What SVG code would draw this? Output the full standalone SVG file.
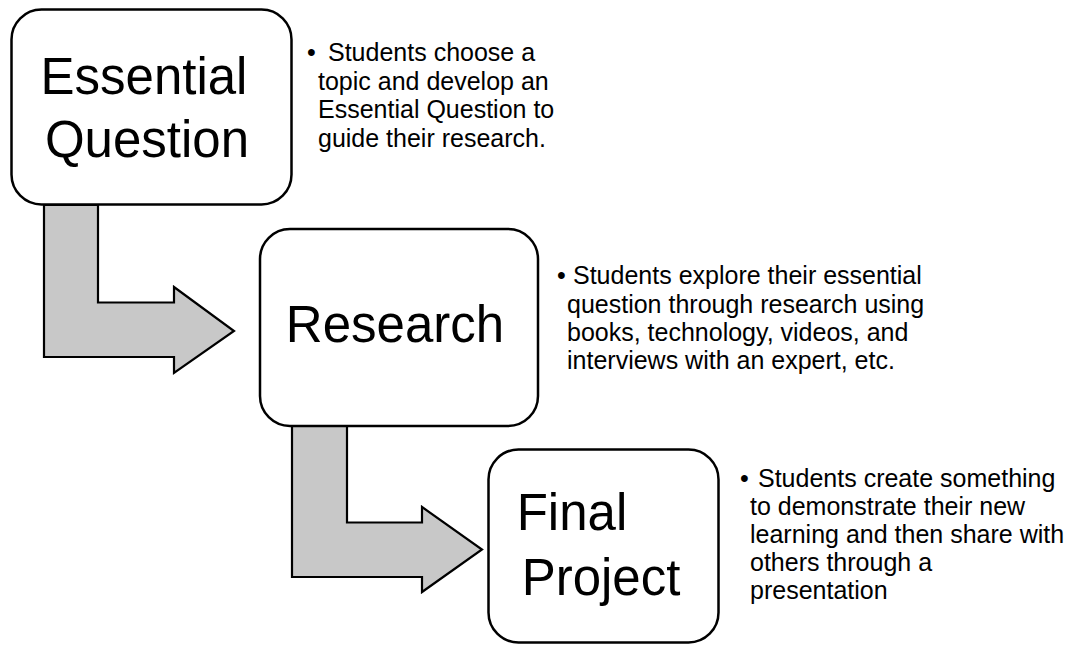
<svg xmlns="http://www.w3.org/2000/svg" width="1071" height="646" viewBox="0 0 1071 646">
<style>
.box{fill:#ffffff;stroke:#000000;stroke-width:2.5}
.arrow{fill:#c8c8c8;stroke:#000000;stroke-width:2.2;stroke-linejoin:miter}
.title{font-family:"Liberation Sans",Arial,sans-serif;font-size:51px;fill:#000000;text-anchor:middle}
.desc{font-family:"Liberation Sans",Arial,sans-serif;font-size:25px;fill:#000000}
</style>
<rect width="1071" height="646" fill="#ffffff"/>
<g id="connectors">
<polygon class="arrow" points="44,205 98,205 98,302.5 174,302.5 174,287 234,331 174,373 174,357 44,357"/>
<polygon class="arrow" points="292,426 347,426 347,522.5 422,522.5 422,507 482,549.5 422,592 422,577 292,577"/>
</g>
<g id="essential-question">
<rect class="box" x="11.5" y="9.5" width="280" height="195" rx="30" ry="30"/>
<text class="title" x="144" y="94">Essential</text>
<text class="title" x="147" y="157">Question</text>
<g class="desc">
<text x="307" y="61">•</text>
<text x="328" y="61">Students choose a</text>
<text x="318" y="89.5">topic and develop an</text>
<text x="318" y="118">Essential Question to</text>
<text x="318" y="146.5">guide their research.</text>
</g>
</g>
<g id="research">
<rect class="box" x="260" y="229" width="278" height="197" rx="30" ry="30"/>
<text class="title" x="395" y="342">Research</text>
<g class="desc">
<text x="557" y="284">•</text>
<text x="573" y="284">Students explore their essential</text>
<text x="567" y="312.5">question through research using</text>
<text x="567" y="341">books, technology, videos, and</text>
<text x="567" y="369">interviews with an expert, etc.</text>
</g>
</g>
<g id="final-project">
<rect class="box" x="488.5" y="449.5" width="230" height="193" rx="30" ry="30"/>
<text class="title" x="572" y="530">Final</text>
<text class="title" x="601" y="595">Project</text>
<g class="desc">
<text x="740" y="487">•</text>
<text x="758" y="487">Students create something</text>
<text x="750" y="515">to demonstrate their new</text>
<text x="750" y="543">learning and then share with</text>
<text x="750" y="571">others through a</text>
<text x="750" y="599">presentation</text>
</g>
</g>
</svg>
